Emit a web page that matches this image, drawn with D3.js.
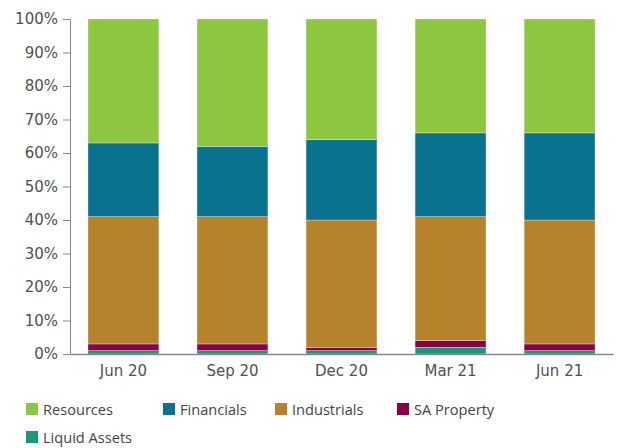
<html>
<head>
    <style>
        body { margin: 0; background: #fff; }
        .tick text { fill: #505050; }
    </style>
</head>
<body>
    <svg id="container" width="620" height="448">
        <g id="body"></g>
        <g id="yAxis"></g>
        <g id="xAxis"></g>
        <g id="legend"></g>
    </svg>
<script src="https://cdn.jsdelivr.net/npm/d3@7"></script>
<script>
    let quarters = ["Jun 20", "Sep 20", "Dec 20", "Mar 21", "Jun 21"]
    let seriesNames = ["Liquid Assets", "SA Property", "Industrials", "Financials", "Resources"]
    let liquidAssets = [1, 1, 1, 2, 1]
    let saProperty = [2, 2, 1, 2, 2]
    let industrials = [38, 38, 38, 37, 37]
    let financials = [22, 21, 24, 25, 26]
    let resources = [37, 38, 36, 34, 34]
    let yTicks = [0, 10, 20, 30, 40, 50, 60, 70, 80, 90, 100]
    let legendOrder = ["Resources", "Financials", "Industrials", "SA Property", "Liquid Assets"]

    let colors = {
        "Resources": "#8dc63f",
        "Financials": "#08728f",
        "Industrials": "#b5832c",
        "SA Property": "#8a0046",
        "Liquid Assets": "#169a7a"
    }

    // build rows for d3.stack
    let rows = quarters.map((q, i) => ({
        quarter: q,
        "Liquid Assets": liquidAssets[i],
        "SA Property": saProperty[i],
        "Industrials": industrials[i],
        "Financials": financials[i],
        "Resources": resources[i]
    }))
    let stacked = d3.stack().keys(seriesNames)(rows)

    let x = d3.scaleBand().range([70, 613]).domain(quarters)
        .paddingInner(0.35).paddingOuter(0.165)
    let y = d3.scaleLinear().range([354, 19]).domain([0, 100])

    let body = d3.select("#body")
    body.selectAll("g")
        .data(stacked)
        .enter()
        .append("g")
        .style("fill", d => colors[d.key])
        .selectAll("rect")
        .data(d => d)
        .enter()
        .append("rect")
        .attr("x", d => x(d.data.quarter))
        .attr("width", x.bandwidth())
        .attr("y", d => y(d[1]))
        .attr("height", d => y(d[0]) - y(d[1]))
        .style("stroke", "#ffffff")
        .style("stroke-opacity", 0.5)
        .style("stroke-width", 0.6)

    let yAxis = d3.axisLeft(y).tickValues(yTicks).tickFormat(d => d + "%").tickSize(7).tickPadding(5)
    d3.select("#yAxis")
        .attr("transform", "translate(70,0)")
        .call(yAxis)
        .call(g => g.selectAll("path, line").attr("stroke", "#888"))
        .call(g => g.selectAll("text").style("font-family", "DejaVu Sans").style("font-size", "15px"))

    let xAxis = d3.axisBottom(x).tickSize(0).tickPadding(11).tickSizeOuter(0)
    d3.select("#xAxis")
        .attr("transform", "translate(0,354)")
        .call(xAxis)
        .call(g => g.select("path").attr("stroke", "#888").attr("stroke-width", 1.5))
        .call(g => g.selectAll("text").style("font-family", "DejaVu Sans").style("font-size", "15px"))

    // legend
    let legendPos = [[26, 403], [163, 403], [275, 403], [397, 403], [26, 431]]
    let legend = d3.select("#legend")
    let items = legend.selectAll("g")
        .data(legendOrder)
        .enter()
        .append("g")
        .attr("transform", (d, i) => `translate(${legendPos[i][0]},${legendPos[i][1]})`)
    items.append("rect")
        .attr("width", 12).attr("height", 12)
        .style("fill", d => colors[d])
    items.append("text")
        .attr("x", 17).attr("y", 12)
        .text(d => d)
        .style("font-family", "Open Sans")
        .style("font-size", "14.6px")
        .style("fill", "#444")
</script>
</body>
</html>
